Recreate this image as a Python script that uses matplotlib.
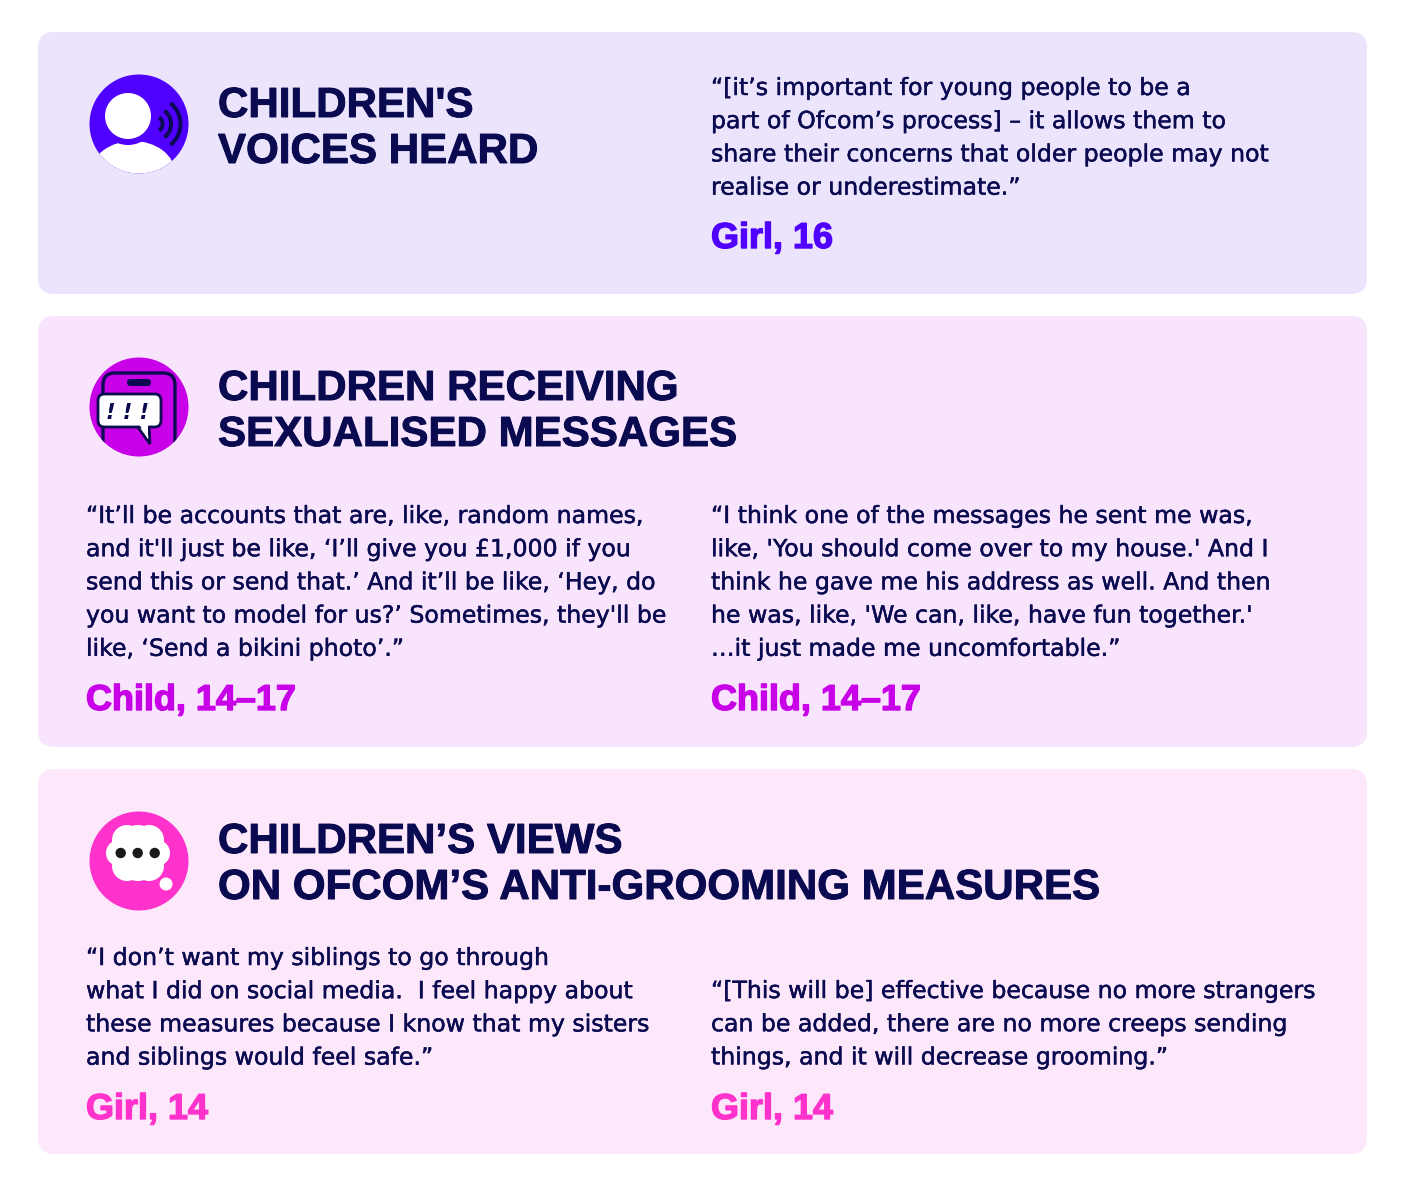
import matplotlib
matplotlib.use("Agg")
import matplotlib.pyplot as plt
import matplotlib.patheffects as pe
from matplotlib.patches import FancyBboxPatch, Circle, Ellipse, Arc, Polygon

W, H = 1405, 1186
NAVY = "#0a0a50"

panel_colors = ["#ece4fd", "#f8e4fc", "#fde8fb"]
accent_colors = ["#5000ff", "#c800e8", "#ff33cc"]
panel_tops = [32, 316, 769]
panel_bottoms = [294, 747, 1154]

headings = [
    ["CHILDREN'S", "VOICES HEARD"],
    ["CHILDREN RECEIVING", "SEXUALISED MESSAGES"],
    ["CHILDREN’S VIEWS", "ON OFCOM’S ANTI-GROOMING MEASURES"],
]
heading_baselines = [[117, 163], [400, 446], [853, 899]]

# x, first baseline, lines, who, who baseline, colour index
quotes = [
    (711, 95, ["“[it’s important for young people to be a",
               "part of Ofcom’s process] – it allows them to",
               "share their concerns that older people may not",
               "realise or underestimate.”"], "Girl, 16", 248, 0),
    (86, 523, ["“It’ll be accounts that are, like, random names,",
               "and it'll just be like, ‘I’ll give you £1,000 if you",
               "send this or send that.’ And it’ll be like, ‘Hey, do",
               "you want to model for us?’ Sometimes, they'll be",
               "like, ‘Send a bikini photo’.”"], "Child, 14–17", 710, 1),
    (711, 523, ["“I think one of the messages he sent me was,",
                "like, 'You should come over to my house.' And I",
                "think he gave me his address as well. And then",
                "he was, like, 'We can, like, have fun together.'",
                "…it just made me uncomfortable.”"], "Child, 14–17", 710, 1),
    (86, 965, ["“I don’t want my siblings to go through",
               "what I did on social media.  I feel happy about",
               "these measures because I know that my sisters",
               "and siblings would feel safe.”"], "Girl, 14", 1119, 2),
    (711, 998, ["“[This will be] effective because no more strangers",
                "can be added, there are no more creeps sending",
                "things, and it will decrease grooming.”"], "Girl, 14", 1119, 2),
]

fig = plt.figure(figsize=(W / 100, H / 100), dpi=100, facecolor="white")
ax = fig.add_axes([0, 0, 1, 1])
ax.set_xlim(0, W)
ax.set_ylim(H, 0)
ax.axis("off")

for top, bot, c in zip(panel_tops, panel_bottoms, panel_colors):
    ax.add_patch(FancyBboxPatch((38 + 16, top + 16), 1329 - 32, bot - top - 32,
                                boxstyle="round,pad=16,rounding_size=16", fc=c, ec="none"))

for lines, bases in zip(headings, heading_baselines):
    for s, y in zip(lines, bases):
        ax.text(218, y, s, family="Liberation Sans", weight="bold", fontsize=30.3,
                color=NAVY, va="baseline", ha="left",
                path_effects=[pe.withStroke(linewidth=0.7, foreground=NAVY)])

for x, y0, lines, who, who_y, ci in quotes:
    for i, s in enumerate(lines):
        ax.text(x, y0 + i * 33.2, s, family="DejaVu Sans", fontsize=17,
                color=NAVY, va="baseline", ha="left",
                path_effects=[pe.withStroke(linewidth=0.35, foreground=NAVY)])
    ax.text(x, who_y, who, family="Liberation Sans", weight="bold", fontsize=25.9,
            color=accent_colors[ci], va="baseline", ha="left",
            path_effects=[pe.withStroke(linewidth=1.0, foreground=accent_colors[ci])])

# icon 1: person with sound waves
disc = Circle((139, 124), 49.5, fc=accent_colors[0], ec="none")
ax.add_patch(disc)
sh = Ellipse((133, 173), 84, 64, fc="white", ec="none", zorder=3)
ax.add_patch(sh)
sh.set_clip_path(disc)
ax.add_patch(Circle((128, 116), 29, fc=accent_colors[0], ec="none", zorder=3.5))
ax.add_patch(Circle((128, 116), 23, fc="white", ec="none", zorder=4))
for rad in (8.5, 17, 26.5):
    ax.add_patch(Arc((154, 124), rad * 2, rad * 2, theta1=-52, theta2=52, ec=NAVY, lw=2.8, zorder=4))

# icon 2: phone with speech bubble
disc2 = Circle((139, 407), 49.5, fc=accent_colors[1], ec="none")
ax.add_patch(disc2)
phone = FancyBboxPatch((115, 385), 48, 70, boxstyle="round,pad=12,rounding_size=12",
                       fc="none", ec=NAVY, lw=2.4, zorder=3)
ax.add_patch(phone)
phone.set_clip_path(disc2)
ax.add_patch(FancyBboxPatch((130.5, 382.5), 17, 0, boxstyle="round,pad=3.5,rounding_size=3.5",
                            fc=NAVY, ec="none", zorder=3))
ax.add_patch(Polygon([(137, 426), (150, 444), (149, 426)], fc="white", ec=NAVY, lw=2, zorder=4))
ax.add_patch(FancyBboxPatch((104.5, 400.5), 50, 20, boxstyle="round,pad=6.5,rounding_size=6.5",
                            fc="white", ec=NAVY, lw=2, zorder=4))
ax.add_patch(Polygon([(139, 424), (148, 439), (148, 424)], fc="white", ec="none", zorder=5))
ax.text(128, 419, "! ! !", family="DejaVu Sans", weight="bold", style="italic", fontsize=15,
        color=NAVY, ha="center", va="baseline", zorder=6)

# icon 3: thought cloud
ax.add_patch(Circle((139, 861), 49.5, fc=accent_colors[2], ec="none"))
ax.add_patch(Ellipse((138, 853), 48, 56, fc="white", ec="none", zorder=3))
for cx, cy, rad in [(127, 840, 15), (149, 840, 15), (127, 866, 15), (149, 866, 15),
                    (119, 853, 13), (157, 853, 13)]:
    ax.add_patch(Circle((cx, cy), rad, fc="white", ec="none", zorder=3))
for cx in (120.7, 137.7, 154.7):
    ax.add_patch(Circle((cx, 853), 5.2, fc="#1a1a1a", ec="none", zorder=4))
ax.add_patch(Circle((166, 884), 6.5, fc="white", ec="none", zorder=3))

fig.savefig("out.png", dpi=100, facecolor="white")
